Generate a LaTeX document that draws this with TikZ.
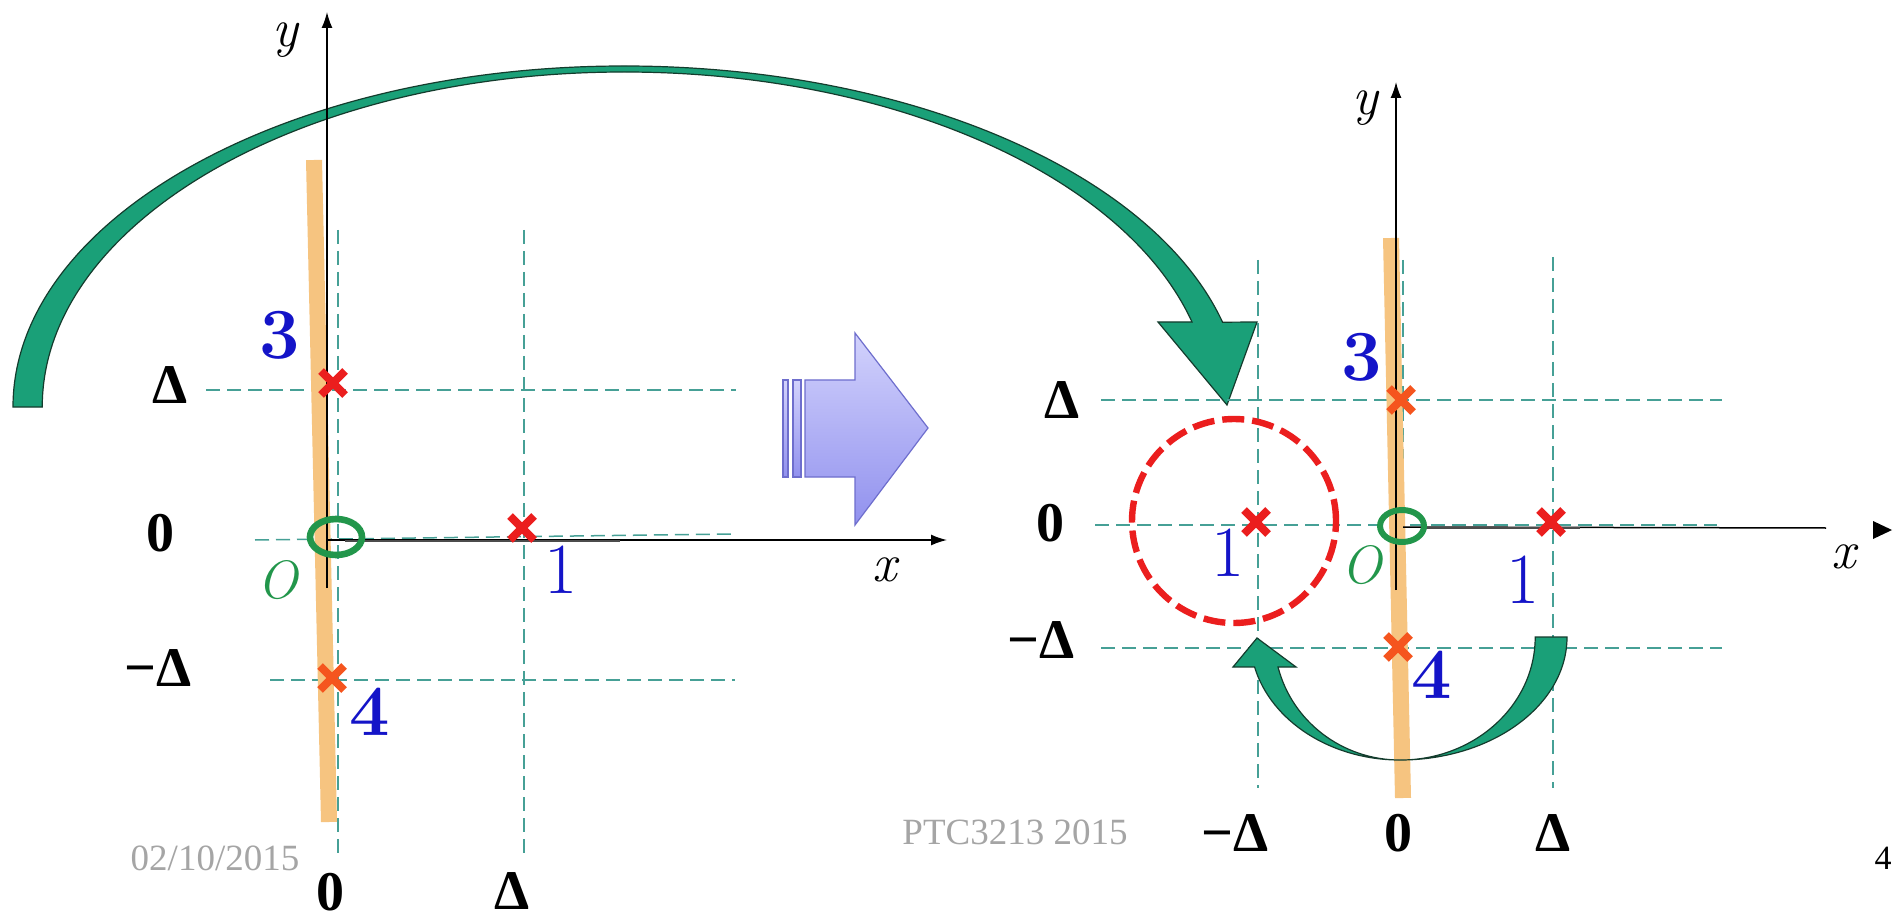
\documentclass[tikz,border=0pt]{standalone}
\usepackage{fontspec}
\setmainfont{Liberation Serif}
\newfontfamily\lmr{Latin Modern Roman}
\usetikzlibrary{arrows.meta,shapes.misc}
\definecolor{gridc}{RGB}{70,160,150}
\definecolor{orng}{RGB}{246,196,128}
\definecolor{numblue}{RGB}{20,20,200}
\definecolor{ogreen}{RGB}{34,150,75}
\definecolor{arrgreen}{RGB}{26,160,120}
\definecolor{arrline}{RGB}{20,60,45}
\definecolor{xred}{RGB}{235,30,30}
\definecolor{xorange}{RGB}{245,85,30}
\definecolor{bluetop}{RGB}{210,210,252}
\definecolor{bluebot}{RGB}{145,145,238}
\definecolor{blueline}{RGB}{110,110,205}
\definecolor{graytext}{RGB}{165,165,165}
\begin{document}
\begin{tikzpicture}[x=0.5pt,y=0.5pt,
  lab/.style={font=\fontsize{28}{28}\selectfont\bfseries, inner sep=0pt},
  num/.style={font=\lmr\fontsize{36}{36}\selectfont, text=numblue, inner sep=0pt},
  bnum/.style={font=\lmr\fontsize{36}{36}\selectfont\bfseries, text=numblue, inner sep=0pt},
  axlab/.style={font=\lmr\fontsize{27}{27}\selectfont\itshape, inner sep=0pt},
  gray/.style={font=\fontsize{18.5}{18.5}\selectfont, text=graytext, inner sep=0pt},
  gridline/.style={draw=gridc, line width=0.75pt, dash pattern=on 7pt off 3.5pt},
  orangebar/.style={draw=orng, line width=8pt},
  axis/.style={draw=black, line width=0.75pt},
  xmark/.style={cross out, draw=#1, line width=4pt, minimum size=8pt, inner sep=0pt},
  origin/.style={draw=ogreen, line width=3.3pt},
  bigarrow/.style={fill=arrgreen, draw=arrline, line width=0.6pt},
]
\fill[white] (0,0) rectangle (1899,-919);
\useasboundingbox (0,0) rectangle (1899,-919);

% ================= LEFT PANEL =================
\draw[gridline] (338,-230) -- (338,-853);
\draw[gridline] (524,-230) -- (524,-853);
\draw[gridline] (206,-390) -- (736,-390);
\draw[gridline] (255,-540) -- (733,-534);
\draw[gridline] (270,-680) -- (735,-680);
\draw[orangebar] (314,-160) -- (329,-822);
% big curved arrow
\path[bigarrow] (13,-407)
  arc[start angle=180, end angle=90, x radius=611, y radius=341]
  arc[start angle=90, end angle=14.4, x radius=618, y radius=341]
  -- (1257,-322) -- (1227,-405) -- (1158,-322) -- (1192,-322)
  arc[start angle=14.7, end angle=90, x radius=587, y radius=335]
  arc[start angle=90, end angle=180, x radius=582, y radius=335]
  -- cycle;
% axes
\coordinate (Ly0) at (327,-588);
\coordinate (Ly1) at (327,-12);
\coordinate (Lx0) at (327,-540);
\coordinate (Lx1) at (947,-540);
\draw[axis, -{Latex[length=8pt,width=5.5pt]}] (Ly0) -- (Ly1);
\draw[axis, -{Latex[length=8pt,width=5.5pt]}] (Lx0) -- (Lx1);
\draw[draw=black!70, line width=1.4pt] (345,-541) -- (620,-541);
\node[xmark=xred] (L3) at (333,-383) {};
\node[xmark=xred] (L1) at (522,-528) {};
\node[xmark=xorange] (L4) at (332,-678) {};
\draw[origin] (336,-537) ellipse [x radius=26, y radius=18];
\node[axlab] (Lylab) at (285,-40) {y};
\node[axlab] (Lxlab) at (885,-570) {x};
\node[axlab, text=ogreen] (LO) at (278,-580) {O};
\node[bnum] (Ln3) at (280,-335) {3};
\node[num] (Ln1) at (561,-570) {1};
\node[bnum] (Ln4) at (370,-712) {4};
\node[lab] (LD) at (170,-385) {Δ};
\node[lab] (L0) at (160,-533) {0};
\node[lab] (LmD) at (158,-668) {−Δ};
\node[lab] (Lb0) at (330,-892) {0};
\node[lab] (LbD) at (512,-891) {Δ};
\node[gray] (date) at (215,-858) {02/10/2015};

% ================= BLOCK ARROW =================
\shade[top color=bluetop, bottom color=bluebot, draw=blueline, line width=0.6pt]
  (805,-380) -- (855,-380) -- (855,-333) -- (928,-428) -- (855,-525) -- (855,-477) -- (805,-477) -- cycle;
\shade[top color=bluetop, bottom color=bluebot, draw=blueline, line width=0.6pt]
  (783,-380) rectangle (788,-477);
\shade[top color=bluetop, bottom color=bluebot, draw=blueline, line width=0.6pt]
  (793,-380) rectangle (801,-477);

% ================= RIGHT PANEL =================
\draw[gridline] (1258,-260) -- (1258,-788);
\draw[gridline] (1403,-260) -- (1403,-788);
\draw[gridline] (1553,-257) -- (1553,-788);
\draw[gridline] (1101,-400) -- (1722,-400);
\draw[gridline] (1095,-525) -- (1717,-525);
\draw[gridline] (1101,-648) -- (1722,-648);
\draw[orangebar] (1391,-238) -- (1403,-798);
\coordinate (Ry0) at (1396,-590);
\coordinate (Ry1) at (1396,-82);
\coordinate (Rx0) at (1403,-527);
\coordinate (Rx1) at (1826,-528);
\draw[axis, -{Latex[length=8pt,width=5.5pt]}] (Ry0) -- (Ry1);
\draw[axis] (Rx0) -- (Rx1);
\draw[draw=black!70, line width=1.4pt] (1426,-528) -- (1580,-528);
\fill[black] (1892,-530) -- (1873,-521) -- (1873,-539) -- cycle;
\draw[draw=xred, line width=3.2pt, dash pattern=on 11pt off 4pt] (1234,-521) circle [radius=102];
\node[xmark=xorange] (R3) at (1401,-400) {};
\node[xmark=xred] (R1a) at (1256,-522) {};
\node[xmark=xred] (R1b) at (1551,-522) {};
\node[xmark=xorange] (R4) at (1398,-647) {};
\draw[origin, line width=3pt] (1402,-526) ellipse [x radius=22, y radius=16];
% small U arrow
\path[bigarrow] (1567,-637)
  arc[start angle=0, end angle=-90, x radius=167, y radius=123]
  arc[start angle=-90, end angle=-165.9, x radius=150, y radius=123]
  -- (1233,-667) -- (1257,-638) -- (1296,-667) -- (1278,-667)
  arc[start angle=-165.9, end angle=-90, x radius=126, y radius=123]
  arc[start angle=-90, end angle=0, x radius=135, y radius=123]
  -- cycle;
\node[axlab] (Rylab) at (1365,-108) {y};
\node[axlab] (Rxlab) at (1844,-557) {x};
\node[axlab, text=ogreen] (RO) at (1362,-565) {O};
\node[bnum] (Rn3) at (1362,-357) {3};
\node[num] (Rn1a) at (1228,-553) {1};
\node[num] (Rn1b) at (1523,-580) {1};
\node[bnum] (Rn4) at (1432,-675) {4};
\node[lab] (RD) at (1062,-400) {Δ};
\node[lab] (R0) at (1050,-523) {0};
\node[lab] (RmD) at (1041,-640) {−Δ};
\node[lab] (RbmD) at (1235,-833) {−Δ};
\node[lab] (Rb0) at (1398,-833) {0};
\node[lab] (RbD) at (1553,-833) {Δ};
\node[gray] (ptc) at (1015,-832) {PTC3213 2015};
\node[font=\fontsize{17}{17}\selectfont, inner sep=0pt] (page) at (1883,-858) {4};
\end{tikzpicture}
\end{document}
